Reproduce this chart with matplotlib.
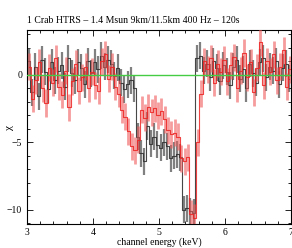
import numpy as np
import matplotlib
matplotlib.use("Agg")
import matplotlib.pyplot as plt
from matplotlib.ticker import MultipleLocator

# bin centres (keV), 0.05 keV bins from 3 to 7
energy = [3.025 + 0.05 * i for i in range(80)]

black_chi = [
    1.0, -1.3, 0.6, -1.6, 1.1, 0.2, -1.1, 0.9, -0.4, 0.3,
    0.7, -0.9, 1.2, 0.1, -0.4, 0.9, 0.5, -0.7, 1.0, 0.1,
    0.9, 0.4, 1.4, 0.6, 1.1, 0.8, -0.1, 0.5, -0.6, -1.1,
    -0.7, -0.4, -1.0, -4.6, -5.8, -6.4, -3.8, -5.1, -4.6, -5.2,
    -5.4, -5.0, -5.3, -6.2, -6.0, -5.9, -6.1, -10.0, -9.9, -10.1,
    -10.2, 1.2, 1.4, 0.3, 0.8, -0.2, 1.0, 0.5, -0.5, 0.7,
    0.2, -0.8, 0.6, 1.1, -0.3, 0.4, -1.0, 0.8, 0.1, -0.6,
    0.9, 1.2, -0.2, 0.6, 0.3, 1.0, -0.7, 0.5, 0.8, -0.3,
]
red_chi = [
    0.6, -1.8, -0.4, 0.9, -1.0, -2.1, 0.5, -0.6, 1.2, -0.9,
    -1.5, 0.3, -2.4, -0.5, 0.8, -1.2, -0.2, 0.6, -1.0, 0.2,
    -0.8, -1.2, 1.0, 1.5, -0.3, 0.6, -0.9, -1.4, -2.6, -3.1,
    -4.2, -5.3, -5.6, -4.8, -2.6, -3.2, -2.4, -2.8, -2.5, -3.0,
    -2.7, -3.3, -4.1, -4.4, -4.3, -4.6, -6.2, -6.4, -6.1, -10.3,
    -10.6, -5.0, -1.4, 1.0, 0.4, 1.2, -0.6, 0.8, 0.2, 1.1,
    -0.5, 0.7, 1.3, -1.0, 0.3, 1.6, -0.2, 0.9, -1.3, 0.5,
    2.4, -0.8, 1.0, 0.2, 1.5, -0.4, 0.6, 1.8, -0.9, 0.4,
]
chi_err = 1.0

title = "1 Crab HTRS \u2013 1.4 Msun 9km/11.5km 400 Hz \u2013 120s"

plt.rcParams['font.family'] = ['Liberation Serif', 'DejaVu Serif']

fig = plt.figure(figsize=(2.92, 2.48), dpi=100)
ax = fig.add_axes([27/292, 1 - 224/248, 264/292, 194/248])

e = np.array(energy)
b = np.array(black_chi)
r = np.array(red_chi)

# black series
ax.errorbar(e, b, yerr=chi_err, fmt='none', ecolor='#555555', elinewidth=1.6, alpha=0.75, zorder=2)
ax.step(e, b, where='mid', color='#333333', lw=0.8, alpha=0.9, zorder=3)
# red series
ax.errorbar(e + 0.012, r, yerr=chi_err, fmt='none', ecolor='#f05a5a', elinewidth=2.0, alpha=0.6, zorder=4)
ax.step(e + 0.012, r, where='mid', color='#ee2222', lw=0.8, alpha=0.85, zorder=5)

ax.axhline(0, color='#44cc44', lw=1.0, zorder=6)

ax.set_xlim(3, 7)
ax.set_ylim(-11.05, 3.3)
ax.xaxis.set_major_locator(MultipleLocator(1))
ax.xaxis.set_minor_locator(MultipleLocator(0.2))
ax.yaxis.set_major_locator(MultipleLocator(5))
ax.yaxis.set_minor_locator(MultipleLocator(1))
ax.tick_params(which='both', direction='in', top=True, right=True, labelsize=7, width=0.6)
ax.tick_params(which='major', length=4)
ax.tick_params(which='minor', length=2)
ax.tick_params(axis='x', pad=3)
for s in ax.spines.values():
    s.set_linewidth(0.8)

fig.text(159/292, 1 - 242/248, "channel energy (keV)", fontsize=7, ha='center', va='center')
fig.text(9/292, 1 - 128/248, "\u03c7", fontsize=8, ha='center', va='center', rotation=90)
ax.set_title(title, fontsize=7, loc='left', pad=5)

fig.savefig("out.png", dpi=100)
